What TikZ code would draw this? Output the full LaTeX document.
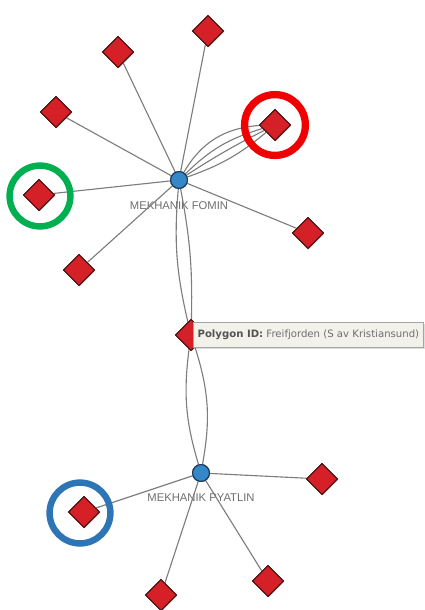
\documentclass[tikz,border=0pt]{standalone}
\usepackage{fontspec}
\setmainfont{Liberation Sans}
\newfontfamily\tipfont{DejaVu Sans}
\usepackage{xcolor}
\usetikzlibrary{shapes.geometric, positioning, shadows}
\definecolor{polyred}{RGB}{214,32,40}
\definecolor{polyedge}{RGB}{80,20,20}
\definecolor{shipblue}{RGB}{52,136,200}
\definecolor{shipedge}{RGB}{30,60,90}
\definecolor{linkgray}{RGB}{125,125,125}
\definecolor{labelgray}{RGB}{110,110,110}
\definecolor{tipfill}{RGB}{242,242,234}
\definecolor{ringred}{RGB}{240,0,0}
\definecolor{ringgreen}{RGB}{0,176,80}
\definecolor{ringblue}{RGB}{46,117,182}
\tikzstyle{polygon} = [diamond, minimum width=0.78cm, minimum height=0.78cm, inner sep=0pt, draw=polyedge, line width=0.8pt, fill=polyred, drop shadow={opacity=0.25, shadow xshift=0.6pt, shadow yshift=-0.6pt}]
\tikzstyle{vessel} = [circle, minimum size=0.42cm, inner sep=0pt, draw=shipedge, line width=0.8pt, fill=shipblue]
\tikzstyle{shiplabel} = [font=\fontsize{8}{9}\selectfont, text=labelgray, inner sep=0pt]
\tikzstyle{link} = [draw=linkgray, line width=0.8pt]
\tikzstyle{ring} = [circle, minimum size=1.52cm, inner sep=0pt, draw, line width=4.6pt]

\begin{document}
\begin{tikzpicture}[x=0.025cm, y=-0.025cm]
\useasboundingbox (0,0) rectangle (424,610);

% Vessels
\node (fomin) [vessel] at (179,180) {};
\node (fomin-name) [shiplabel, below=8.5pt of fomin] {MEKHANIK FOMIN};
\node (pyatlin) [vessel] at (201,473) {};
\node (pyatlin-name) [shiplabel, below=8.5pt of pyatlin] {MEKHANIK PYATLIN};

% Polygons around Fomin
\node (p-top) [polygon] at (208,31) {};
\node (p-upleft) [polygon] at (118,52) {};
\node (p-left) [polygon] at (56,112) {};
\node (p-red) [polygon] at (275,125) {};
\node (p-green) [polygon] at (39,195) {};
\node (p-right) [polygon] at (308,233) {};
\node (p-lowleft) [polygon] at (79,270) {};

% Shared polygon
\node (p-freif) [polygon] at (191,335) {};

% Polygons around Pyatlin
\node (p-east) [polygon] at (322,479) {};
\node (p-blue) [polygon] at (84,512) {};
\node (p-southeast) [polygon] at (268,581) {};
\node (p-south) [polygon] at (161,595) {};

% Links
\foreach \p in {p-top, p-upleft, p-left, p-green, p-right, p-lowleft}
    \draw [link] (fomin) -- (\p);
\draw [link] (fomin) to[bend left=28] (p-red);
\draw [link] (fomin) to[bend left=14] (p-red);
\draw [link] (fomin) to[bend left=3] (p-red);
\draw [link] (fomin) to[bend right=10] (p-red);
\draw [link] (fomin) to[bend right=9] (p-freif);
\draw [link] (fomin) to[bend left=6] (p-freif);
\draw [link] (p-freif) to[bend right=12] (pyatlin);
\draw [link] (p-freif) to[bend left=14] (pyatlin);
\foreach \p in {p-east, p-blue, p-southeast, p-south}
    \draw [link] (pyatlin) -- (\p);

% Nodes again on top of the links
\node [vessel] at (fomin) {};
\node [vessel] at (pyatlin) {};
\foreach \p in {p-top, p-upleft, p-left, p-red, p-green, p-right, p-lowleft, p-freif, p-east, p-blue, p-southeast, p-south}
    \node [polygon] at (\p) {};

% Tooltip
\node (tooltip) [anchor=west, fill=tipfill, draw=linkgray!70, line width=0.5pt, minimum height=0.63cm, minimum width=5.75cm, inner xsep=3pt, text=labelgray, font=\tipfont\fontsize{7.2}{8}\selectfont, drop shadow={opacity=0.25, shadow xshift=0.8pt, shadow yshift=-0.8pt}] at (193,335) {\textcolor{labelgray!75!black}{\bfseries Polygon ID:} Freifjorden (S av Kristiansund)};

% Highlight rings
\node (ring-red) [ring, draw=ringred, line width=5.2pt] at (p-red) {};
\node (ring-green) [ring, draw=ringgreen] at (40,196) {};
\node (ring-blue) [ring, draw=ringblue] at (80,513) {};

\end{tikzpicture}
\end{document}
